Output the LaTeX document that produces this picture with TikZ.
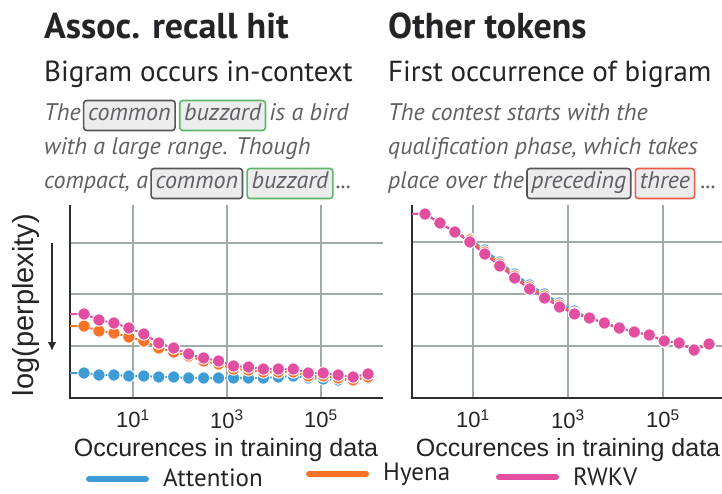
\documentclass[tikz,border=0pt]{standalone}
\usepackage{fontspec}
\setmainfont{PT Sans}
\newfontfamily\axisfont{Liberation Sans}
\usetikzlibrary{positioning,arrows.meta}
\definecolor{attn}{RGB}{61,155,213}
\definecolor{hyena}{RGB}{246,115,40}
\definecolor{rwkv}{RGB}{226,78,160}
\definecolor{gridgray}{RGB}{160,170,168}
\definecolor{axisdark}{RGB}{45,45,48}
\definecolor{titlecol}{RGB}{35,35,40}
\definecolor{txtgray}{RGB}{95,95,100}
\definecolor{boxgray}{RGB}{85,85,90}
\definecolor{boxfill}{RGB}{236,236,236}
\definecolor{boxgreen}{RGB}{92,182,108}
\definecolor{boxred}{RGB}{232,92,72}
\tikzset{
    x=1pt, y=-1pt,
    title/.style={anchor=base west, inner sep=0pt, text=titlecol, font=\fontsize{36}{40}\selectfont\bfseries},
    subtitle/.style={anchor=base west, inner sep=0pt, text=titlecol, font=\fontsize{29}{32}\selectfont},
    word/.style={inner sep=0pt, text height=17pt, text depth=6pt, text=txtgray, font=\fontsize{24}{28}\selectfont\itshape},
    tok/.style={word, draw=boxgray, fill=boxfill, line width=1.6pt, rounded corners=3pt, inner xsep=4.5pt, inner ysep=3.5pt},
    gridline/.style={gridgray, line width=2.2pt},
    axisline/.style={axisdark, line width=2.6pt},
    tick/.style={inner sep=0pt, font=\axisfont\fontsize{22}{24}\selectfont, text=titlecol},
    label/.style={inner sep=0pt, font=\axisfont\fontsize{25}{28}\selectfont, text=titlecol},
    curve/.style={#1, line width=2pt},
    dot/.style={fill=#1, draw=white, line width=1pt},
    legline/.style={#1, line width=6pt, line cap=round},
    legtext/.style={anchor=west, inner sep=0pt, text=titlecol, font=\fontsize{25}{28}\selectfont}
}
% color, axis x, first x, first y, list of y values
\newcommand{\drawseries}[5]{%
    \draw[curve=#1] (#2,#4) -- (#3,#4)
        \foreach \yv [count=\i from 0] in {#5} { -- ({#3+14.95*\i},\yv) };
    \foreach \yv [count=\i from 0] in {#5} {
        \filldraw[dot=#1] ({#3+14.95*\i},\yv) circle (6.2);
    }
}

\begin{document}
\begin{tikzpicture}
    \useasboundingbox (0,0) rectangle (722,494);

    % left panel text
    \node[title] (lt) at (44,39) {Assoc. recall hit};
    \node[subtitle] (ls) at (44,82) {Bigram occurs in-context};
    \node[word, anchor=base west] (l1a) at (44,121) {The};
    \node[tok, right=2pt of l1a] (l1b) {common};
    \node[tok, draw=boxgreen, right=3pt of l1b] (l1c) {buzzard};
    \node[word, right=3pt of l1c] (l1d) {is a bird};
    \node[word, anchor=base west] (l2a) at (44,155) {with a large range. Though};
    \node[word, anchor=base west] (l3a) at (44,189) {compact, a};
    \node[tok, right=2pt of l3a] (l3b) {common};
    \node[tok, draw=boxgreen, right=3pt of l3b] (l3c) {buzzard};
    \node[word, right=2pt of l3c] (l3d) {...};

    % right panel text
    \node[title] (rt) at (388,39) {Other tokens};
    \node[subtitle] (rs) at (388,82) {First occurrence of bigram};
    \node[word, anchor=base west] (r1a) at (388,121) {The contest starts with the};
    \node[word, anchor=base west] (r2a) at (388,155) {qualification phase, which takes};
    \node[word, anchor=base west] (r3a) at (388,189) {place over the};
    \node[tok, right=2pt of r3a] (r3b) {preceding};
    \node[tok, draw=boxred, right=3pt of r3b] (r3c) {three};
    \node[word, right=5pt of r3c] (r3d) {...};

    % left plot
    \foreach \gy in {243,294,346} \draw[gridline] (70,\gy) -- (383,\gy);
    \foreach \gx in {133,227,321} \draw[gridline] (\gx,205) -- (\gx,398);
    \draw[axisline] (70,205) -- (70,398) -- (383,398);
    \node[tick] (lx1) at (133,419) {10\textsuperscript{1}};
    \node[tick] (lx3) at (227,419) {10\textsuperscript{3}};
    \node[tick] (lx5) at (321,419) {10\textsuperscript{5}};
    \node[label] (lxl) at (226,450) {Occurences in training data};
    \node[label, font=\axisfont\fontsize{29}{30}\selectfont, rotate=90] (lyl) at (26,305) {log(perplexity)};
    \coordinate (arrtop) at (52,243);
    \coordinate (arrbot) at (52,351);
    \draw[axisline, line width=2.4pt, -{Latex[length=9pt,width=9pt]}] (arrtop) -- (arrbot);

    \drawseries{attn}{70}{84}{373}{373,375,375,376,376,377,377,378,378,378,378,378,378,377,376,378,379,380,380,378}
    \drawseries{hyena}{70}{84}{326}{326,331,333,337,341,348,352,356,361,364,369,370,372,372,372,376,376,378,380,377}
    \drawseries{rwkv}{70}{84}{314}{314,320,323,328,334,343,348,354,358,361,366,367,369,369,369,373,373,375,377,374}

    % right plot
    \foreach \gy in {242,294,346} \draw[gridline] (412,\gy) -- (722,\gy);
    \foreach \gx in {473,568,663} \draw[gridline] (\gx,205) -- (\gx,398);
    \draw[axisline] (412,205) -- (412,398) -- (722,398);
    \node[tick] (rx1) at (473,419) {10\textsuperscript{1}};
    \node[tick] (rx3) at (568,419) {10\textsuperscript{3}};
    \node[tick] (rx5) at (663,419) {10\textsuperscript{5}};
    \node[label] (rxl) at (568,450) {Occurences in training data};

    \drawseries{attn}{412}{425}{214}{214,223,232,239,250,262,274,285,294,303,311,318,323,328,332,335,341,343,350,344}
    \drawseries{hyena}{412}{425}{214}{214,223,232,240,252,264,276,287,296,305,313,318,323,328,332,335,341,343,350,344}
    \drawseries{rwkv}{412}{425}{214}{214,223,232,242,254,266,278,289,298,307,314,318,323,328,332,335,341,343,350,344}

    % legend
    \draw[legline=attn] (89,479) -- (146,479);
    \node[legtext] (lg1) at (163,478) {Attention};
    \draw[legline=hyena] (309,474) -- (366,474);
    \node[legtext] (lg2) at (383,474) {Hyena};
    \draw[legline=rwkv] (499,477) -- (556,477);
    \node[legtext] (lg3) at (573,477) {RWKV};
\end{tikzpicture}
\end{document}
